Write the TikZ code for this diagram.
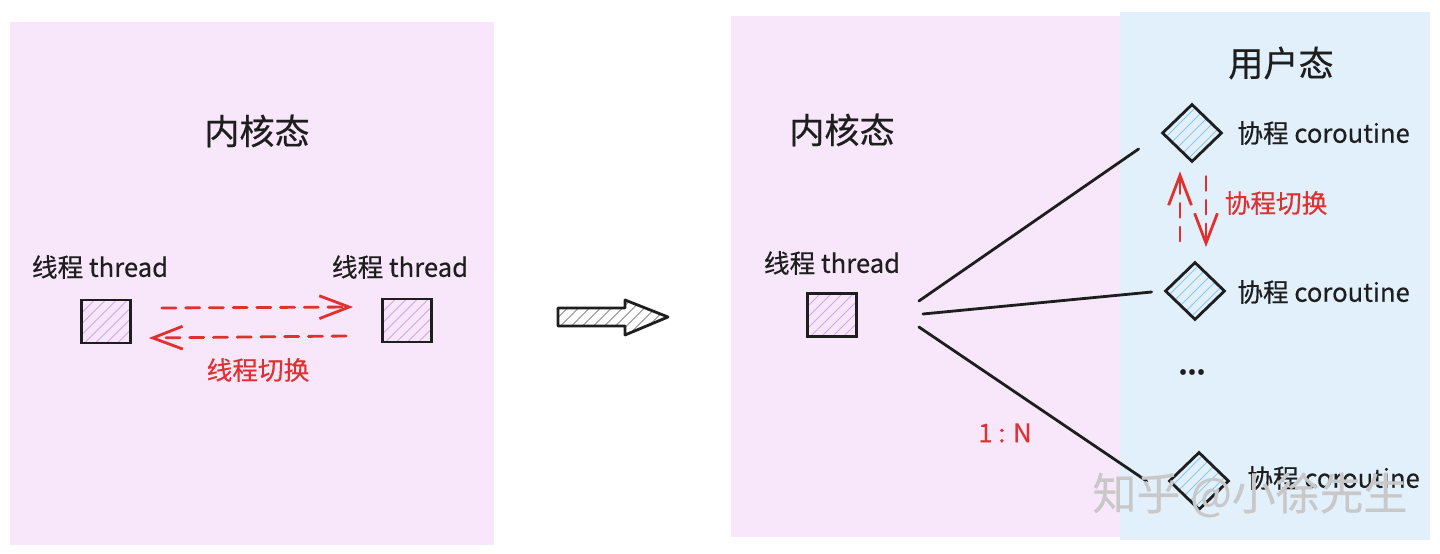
\documentclass[tikz,border=0pt]{standalone}
\usepackage{fontspec}
\setmainfont{Noto Sans CJK SC}[FakeBold=0.4]
\usetikzlibrary{calc,shapes.geometric,arrows.meta}
\definecolor{pinkbg}{HTML}{F8E7FB}
\definecolor{bluebg}{HTML}{E2F0FC}
\definecolor{redc}{HTML}{E03131}
\definecolor{ink}{HTML}{1E1E1E}
\definecolor{hpurple}{HTML}{D3A6EA}
\definecolor{hblue}{HTML}{8EC8F2}
\definecolor{hgray}{HTML}{8A8A8A}
\definecolor{wmark}{HTML}{C8C8C8}
\newcommand\fsLbl{\fontsize{14.6}{17}\selectfont}
\newcommand\fsTitle{\fontsize{20}{24}\selectfont}
\newcommand\fsMark{\fontsize{25}{28}\selectfont}
\begin{document}
\begin{tikzpicture}[x=0.02cm,y=-0.02cm,
  hatch/.style={path picture={\foreach \k in {-8,...,8}{\draw[#1,line width=0.45pt] ($(path picture bounding box.center)+(\k*11-60,60)$) -- ++(120,-120);}}},
  lbl/.style={font=\fsLbl, text=ink, inner sep=0pt},
  title/.style={font=\fsTitle, text=ink, inner sep=0pt},
  redlbl/.style={font=\fsLbl, text=redc, inner sep=0pt},
  tsq/.style={rectangle, draw=ink, line width=1.6pt, minimum width=0.98cm, minimum height=0.86cm, inner sep=0pt, hatch=hpurple},
  cdia/.style={diamond, draw=ink, line width=1.6pt, minimum width=1.2cm, minimum height=1.16cm, inner sep=0pt, hatch=hblue},
  redarr/.style={draw=redc, line width=1.6pt, dash pattern=on 8pt off 5.5pt, line cap=round, -{Straight Barb[length=17pt,width=13pt]}},
  conn/.style={draw=ink, line width=1.6pt, line cap=round}
]
\useasboundingbox (0,0) rectangle (1440,554);
% panels
\fill[pinkbg] (10,22) rectangle (494,545);
\fill[pinkbg] (731,16) rectangle (1120,537);
\fill[bluebg] (1120,12) rectangle (1430,540);

% left panel
\node[title] (k1) at (257,131) {内核态};
\node[lbl] (l1) at (100,267) {线程 thread};
\node[lbl] (l2) at (400,267) {线程 thread};
\node[tsq] (sq1) at (106,321.5) {};
\node[tsq] (sq2) at (407,320.5) {};
\draw[redarr] ($(sq1.east)+(30,-13.5)$) -- ($(sq2.west)+(-28,-13.5)$);
\draw[redarr] ($(sq2.west)+(-35,15.5)$) -- ($(sq1.east)+(17,16.5)$);
\node[redlbl] (sw1) at (258,370) {线程切换};

% big arrow
\path[hatch=hgray, draw=ink, line width=1.6pt, line join=round]
  (558,308) -- (625,308) -- (625,300) -- (668,317) -- (625,335) -- (625,326) -- (558,326) -- cycle;

% right panel
\node[title] (k2) at (842,130) {内核态};
\node[title] (u2) at (1281,63) {用户态};
\node[lbl] (l3) at (832,263) {线程 thread};
\node[tsq] (sq3) at (832,315) {};
\node[cdia] (c1) at (1192,133) {};
\node[cdia] (c2) at (1195,291) {};
\node[cdia] (c3) at (1199,481) {};
\node[lbl, anchor=west] (cl1) at (1237,133) {协程 coroutine};
\node[lbl, anchor=west] (cl2) at (1237,292) {协程 coroutine};
\node[lbl, anchor=west] (cl3) at (1247,478) {协程 coroutine};
\node[lbl] (dots) at (1192,372) {\textbf{...}};
\draw[conn] ($(sq3.east)+(61,-14)$) -- ($(c1.west)+(-22,16)$);
\draw[conn] ($(sq3.east)+(65,-1)$) -- ($(c2.west)+(-12,1)$);
\draw[conn] ($(sq3.east)+(61,12)$) -- ($(c3.west)+(-21,0)$);
\draw[redarr] ($(c2.north)+(-15,-19.5)$) -- ($(c1.south)+(-12,8)$);
\draw[redarr] ($(c1.south)+(14,13)$) -- ($(c2.north)+(11,-13.5)$);
\node[redlbl] (sw2) at (1276,203) {协程切换};
\node[redlbl] (ratio) at (1005,433) {1 : N};
\node[font=\fsMark, text=wmark, inner sep=0pt] (wm) at (1250,495) {知乎 @小徐先生};
\end{tikzpicture}
\end{document}
